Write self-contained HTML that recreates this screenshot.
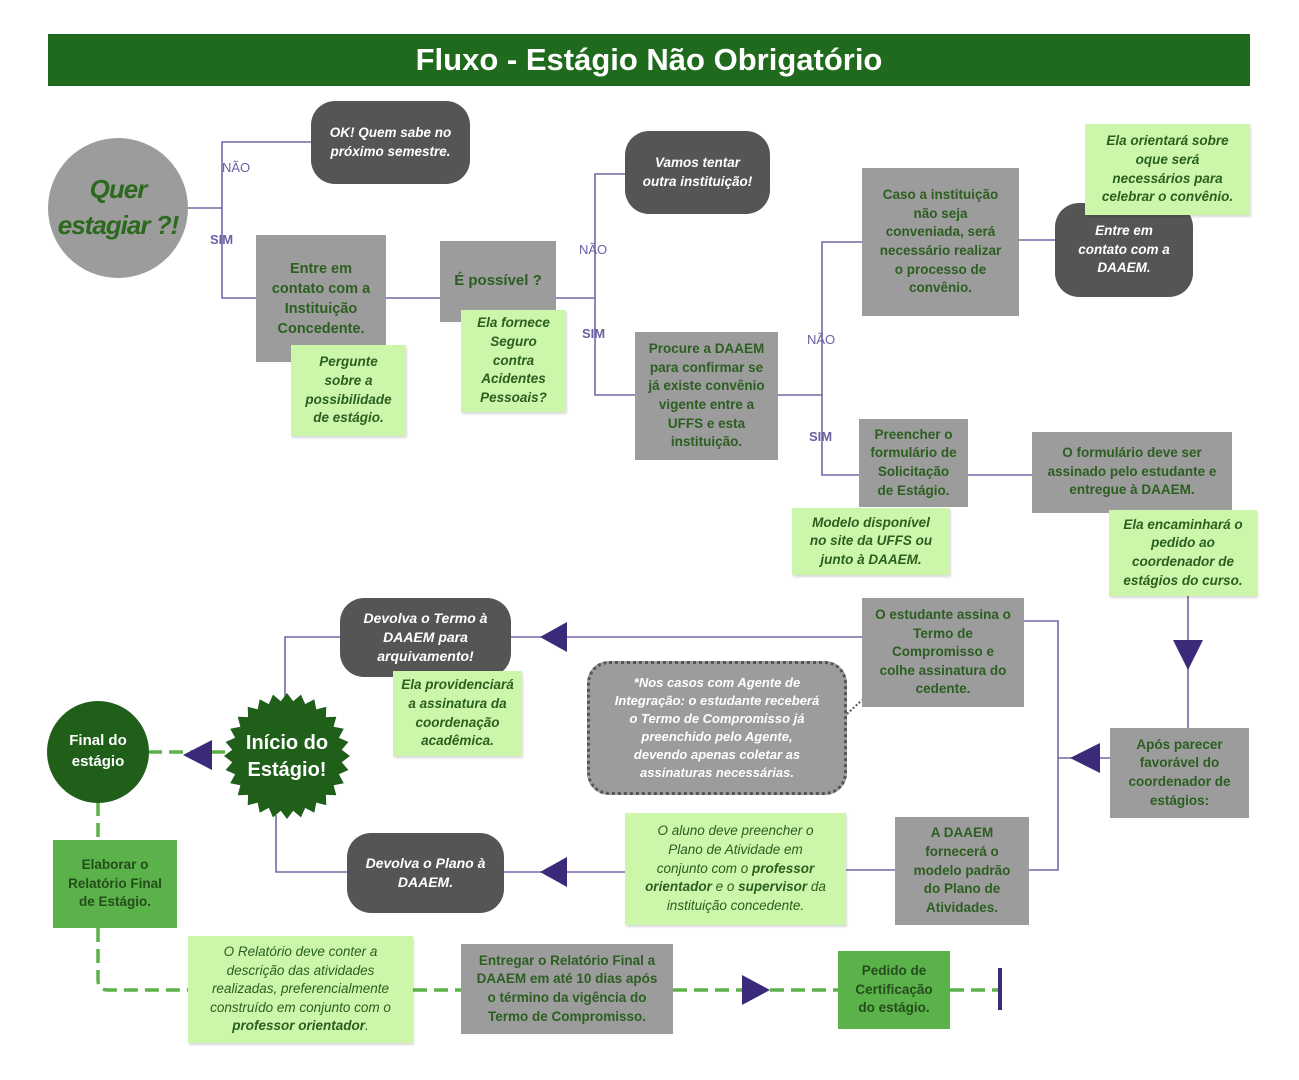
<!DOCTYPE html>
<html><head><meta charset="utf-8"><style>
*{margin:0;padding:0;box-sizing:border-box}
body{width:1299px;height:1080px;background:#fff;position:relative;overflow:hidden;font-family:"Liberation Sans","DejaVu Sans",sans-serif}
.b{position:absolute;display:flex;align-items:center;justify-content:center;text-align:center;font-weight:bold;font-size:13.5px;line-height:1.38}
.g{background:#9c9c9c;color:#2b5e20}
.d{background:#555;color:#fff;font-style:italic;border-radius:24px}
.l{background:#ccf7ab;color:#2b5e20;font-style:italic;box-shadow:1px 2px 2px rgba(0,0,0,.15)}
.m{background:#5cb24a;color:#234d1a}
.lab{position:absolute;font-size:13px;color:#6d5fa0}
</style></head><body>
<div class="b" style="left:48px;top:34px;width:1202px;height:52px;background:#1f6a1c;color:#fff;font-size:31px">Fluxo - Estágio Não Obrigatório</div>

<svg width="1299" height="1080" style="position:absolute;left:0;top:0">
<g fill="none" stroke="#7567a6" stroke-width="1.6">
<path d="M188 208H222V142H311M222 208V298H256"/>
<path d="M386 298H440"/>
<path d="M556 298H595V174H625M595 298V395H635"/>
<path d="M778 395H822V242H862M822 395V475H859"/>
<path d="M968 475H1032"/>
<path d="M1019 240H1055"/>
<path d="M1188 596V650"/>
<path d="M1188 660V728"/>
<path d="M1110 758H1058V621H1024M1058 758V870H1029"/>
<path d="M862 637H511"/>
<path d="M340 637H285V700"/>
<path d="M276 815V872H347"/>
<path d="M504 872H625"/>
<path d="M846 870H895"/>
</g>
<path d="M847 714 L862 700" stroke="#555" stroke-width="2" stroke-dasharray="2 2" fill="none"/>
<g fill="none" stroke="#5cb24a" stroke-width="3.5" stroke-dasharray="14 7">
<path d="M148 752H225"/>
<path d="M98 802V840"/>
<path d="M98 928V980Q98 990 108 990H188"/>
<path d="M413 990H461"/>
<path d="M673 990H742"/>
<path d="M770 990H838"/>
<path d="M950 990H1000"/>
</g>
<g fill="#3b2a7a">
<path d="M1173 640H1203L1188 670Z"/>
<path d="M1070 758L1100 743V773Z"/>
<path d="M540 637L567 622V652Z"/>
<path d="M540 872L567 857V887Z"/>
<path d="M183 755L212 740V770Z"/>
<path d="M770 990L742 975V1005Z"/>
</g>
<path d="M1000 968V1010" stroke="#3b2a7a" stroke-width="4"/>
<circle cx="118" cy="208" r="70" fill="#9c9c9c"/>
<circle cx="98" cy="752" r="51" fill="#1f5f1a"/>
<polygon id="star" fill="#1f5f1a" points=""/>
</svg>
<script>
(function(){var p=[],n=28,cx=287,cy=756,R=63,r=55;for(var i=0;i<n*2;i++){var a=Math.PI*i/n,rr=i%2?r:R;p.push((cx+rr*Math.cos(a)).toFixed(1)+","+(cy+rr*Math.sin(a)).toFixed(1));}document.getElementById("star").setAttribute("points",p.join(" "));})();
</script>

<div class="b" style="left:48px;top:155px;width:140px;height:105px;color:#2b6a1e;font-size:26px;font-style:italic;line-height:1.35;letter-spacing:-1px">Quer<br>estagiar ?!</div>
<div class="lab" style="left:222px;top:160px">NÃO</div>
<div class="lab" style="left:210px;top:232px;font-weight:bold">SIM</div>
<div class="lab" style="left:579px;top:242px">NÃO</div>
<div class="lab" style="left:582px;top:326px;font-weight:bold">SIM</div>
<div class="lab" style="left:807px;top:332px">NÃO</div>
<div class="lab" style="left:809px;top:429px;font-weight:bold">SIM</div>

<div class="b d" style="left:311px;top:101px;width:159px;height:83px">OK! Quem sabe no<br>próximo semestre.</div>
<div class="b g" style="left:256px;top:235px;width:130px;height:127px;font-size:14.5px">Entre em<br>contato com a<br>Instituição<br>Concedente.</div>
<div class="b l" style="left:291px;top:345px;width:115px;height:91px">Pergunte<br>sobre a<br>possibilidade<br>de estágio.</div>
<div class="b g" style="left:440px;top:241px;width:116px;height:81px;font-size:15px;align-items:flex-start;padding-top:30px">É possível ?</div>
<div class="b l" style="left:461px;top:310px;width:105px;height:102px">Ela fornece<br>Seguro<br>contra<br>Acidentes<br>Pessoais?</div>
<div class="b d" style="left:625px;top:131px;width:145px;height:83px">Vamos tentar<br>outra instituição!</div>
<div class="b g" style="left:635px;top:332px;width:143px;height:128px">Procure a DAAEM<br>para confirmar se<br>já existe convênio<br>vigente entre a<br>UFFS e esta<br>instituição.</div>
<div class="b g" style="left:862px;top:168px;width:157px;height:148px">Caso a instituição<br>não seja<br>conveniada, será<br>necessário realizar<br>o processo de<br>convênio.</div>
<div class="b d" style="left:1055px;top:203px;width:138px;height:94px;font-size:13.5px">Entre em<br>contato com a<br>DAAEM.</div>
<div class="b l" style="left:1085px;top:124px;width:165px;height:91px">Ela orientará sobre<br>oque será<br>necessários para<br>celebrar o convênio.</div>
<div class="b g" style="left:859px;top:419px;width:109px;height:88px">Preencher o<br>formulário de<br>Solicitação<br>de Estágio.</div>
<div class="b l" style="left:792px;top:508px;width:158px;height:67px">Modelo disponível<br>no site da UFFS ou<br>junto à DAAEM.</div>
<div class="b g" style="left:1032px;top:432px;width:200px;height:81px;align-items:flex-start;padding-top:12px">O formulário deve ser<br>assinado pelo estudante e<br>entregue à DAAEM.</div>
<div class="b l" style="left:1109px;top:510px;width:148px;height:86px">Ela  encaminhará o<br>pedido ao<br>coordenador de<br>estágios do curso.</div>
<div class="b g" style="left:1110px;top:728px;width:139px;height:90px">Após parecer<br>favorável do<br>coordenador de<br>estágios:</div>
<div class="b g" style="left:862px;top:598px;width:162px;height:109px">O estudante assina o<br>Termo de<br>Compromisso  e<br>colhe assinatura do<br>cedente.</div>
<div class="b" style="left:587px;top:661px;width:260px;height:134px;background:#9c9c9c;border:3px dotted #555;border-radius:22px;color:#fff;font-style:italic;font-size:13px">*Nos casos com Agente de<br>Integração: o estudante receberá<br>o Termo de Compromisso já<br>preenchido pelo Agente,<br>devendo apenas coletar as<br>assinaturas necessárias.</div>
<div class="b d" style="left:340px;top:598px;width:171px;height:79px;font-size:14px">Devolva o Termo  à<br>DAAEM para<br>arquivamento!</div>
<div class="b l" style="left:393px;top:671px;width:129px;height:85px">Ela providenciará<br>a assinatura da<br>coordenação<br>acadêmica.</div>
<div class="b" style="left:227px;top:722px;width:120px;height:70px;color:#fff;font-size:20px;line-height:1.35">Início do<br>Estágio!</div>
<div class="b" style="left:48px;top:722px;width:100px;height:60px;color:#fff;font-size:15px">Final do<br>estágio</div>
<div class="b d" style="left:347px;top:833px;width:157px;height:80px;font-size:14px">Devolva o Plano  à<br>DAAEM.</div>
<div class="b l" style="left:625px;top:813px;width:221px;height:112px;font-weight:normal"><div>O aluno deve preencher o<br>Plano de Atividade em<br>conjunto com o <b>professor</b><br><b>orientador</b> e o <b>supervisor</b> da<br>instituição concedente.</div></div>
<div class="b g" style="left:895px;top:817px;width:134px;height:108px">A DAAEM<br>fornecerá o<br>modelo padrão<br>do Plano de<br>Atividades.</div>
<div class="b m" style="left:53px;top:840px;width:124px;height:88px">Elaborar o<br>Relatório Final<br>de Estágio.</div>
<div class="b l" style="left:188px;top:936px;width:225px;height:107px;font-weight:normal"><div>O Relatório deve conter a<br>descrição das atividades<br>realizadas, preferencialmente<br>construído em conjunto com o<br><b>professor orientador</b>.</div></div>
<div class="b g" style="left:461px;top:944px;width:212px;height:90px">Entregar o Relatório Final a<br>DAAEM em até 10 dias após<br>o término da vigência do<br>Termo de Compromisso.</div>
<div class="b m" style="left:838px;top:951px;width:112px;height:78px">Pedido de<br>Certificação<br>do estágio.</div>
</body></html>
